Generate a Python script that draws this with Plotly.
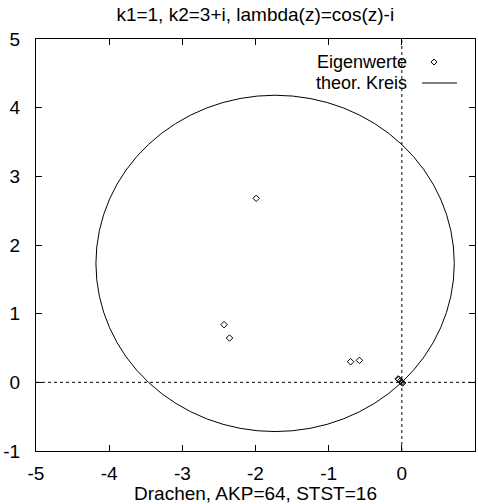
import plotly.graph_objects as go

eig_re = [-1.99, -2.43, -2.355, -0.70, -0.58, -0.05, -0.04, -0.02, 0.0, 0.01]
eig_im = [2.68, 0.84, 0.645, 0.30, 0.32, 0.05, 0.04, 0.02, 0.0, -0.01]

# theoretical circle
circle_cx = -1.732
circle_cy = 1.732
circle_r = 2.449

x_ticks = [-5, -4, -3, -2, -1, 0, 1]
y_ticks = [-1, 0, 1, 2, 3, 4, 5]

title_text = "k1=1, k2=3+i, lambda(z)=cos(z)-i"
xlabel_text = "Drachen, AKP=64, STST=16"
legend_labels = ["Eigenwerte", "theor. Kreis"]

FONT = "Liberation Sans, Arial, sans-serif"
FS = 19
LFS = 18

fig = go.Figure()
fig.add_trace(go.Scatter(
    x=eig_re, y=eig_im, mode="markers",
    marker=dict(symbol="diamond-open", size=5, color="black", line=dict(width=1, color="black")),
    showlegend=False, hoverinfo="x+y",
))

# legend sample positions (paper coords)
dx, dy = 0.9066, 0.9441
hw, hh = 0.0068, 0.0073
ly = 0.8932
shapes = [
    # zero axes (dotted)
    dict(type="line", xref="x", yref="paper", x0=0, x1=0, y0=0, y1=1,
         line=dict(color="black", width=1, dash="dot"), layer="below"),
    dict(type="line", xref="paper", yref="y", x0=0, x1=1, y0=0, y1=0,
         line=dict(color="black", width=1, dash="dot"), layer="below"),
    # theoretical circle
    dict(type="circle", xref="x", yref="y",
         x0=circle_cx - circle_r, x1=circle_cx + circle_r,
         y0=circle_cy - circle_r, y1=circle_cy + circle_r,
         line=dict(color="black", width=1)),
    # legend samples
    dict(type="path", xref="paper", yref="paper",
         path=f"M {dx},{dy+hh} L {dx+hw},{dy} L {dx},{dy-hh} L {dx-hw},{dy} Z",
         line=dict(color="black", width=1)),
    dict(type="line", xref="paper", yref="paper", x0=0.8793, x1=0.959, y0=ly, y1=ly,
         line=dict(color="black", width=1)),
]

annotations = [
    dict(text=legend_labels[0], xref="paper", yref="paper", x=0.8474, y=dy,
         xanchor="right", yanchor="middle", showarrow=False, borderpad=0,
         font=dict(family=FONT, size=LFS, color="black")),
    dict(text=legend_labels[1], xref="paper", yref="paper", x=0.8474, y=ly,
         xanchor="right", yanchor="middle", showarrow=False, borderpad=0,
         font=dict(family=FONT, size=LFS, color="black")),
]

fig.update_layout(
    width=478, height=504,
    margin=dict(l=36, r=3, t=39, b=53),
    paper_bgcolor="white", plot_bgcolor="white",
    font=dict(family=FONT, size=FS, color="black"),
    title=dict(text=title_text, x=0.534, xanchor="center", y=0.971, yanchor="middle",
               font=dict(family=FONT, size=FS, color="black")),
    shapes=shapes, annotations=annotations,
    showlegend=False,
)
fig.update_xaxes(
    range=[-5, 1], tickvals=x_ticks, ticktext=[str(v) for v in x_ticks],
    ticks="inside", ticklen=6, tickcolor="black", showgrid=False, zeroline=False,
    showline=True, linecolor="black", linewidth=1, mirror="ticks",
    ticklabelstandoff=5,
    title=dict(text=xlabel_text, standoff=0, font=dict(family=FONT, size=FS)),
    tickfont=dict(family=FONT, size=FS),
)
fig.update_yaxes(
    range=[-1, 5], tickvals=y_ticks, ticktext=[str(v) for v in y_ticks],
    ticks="inside", ticklen=6, tickcolor="black", showgrid=False, zeroline=False,
    showline=True, linecolor="black", linewidth=1, mirror="ticks",
    ticklabelstandoff=11,
    tickfont=dict(family=FONT, size=FS),
)

fig.write_html("out.html", config={"displayModeBar": False},
               post_script="document.body.style.margin='0';document.body.style.padding='0';")
